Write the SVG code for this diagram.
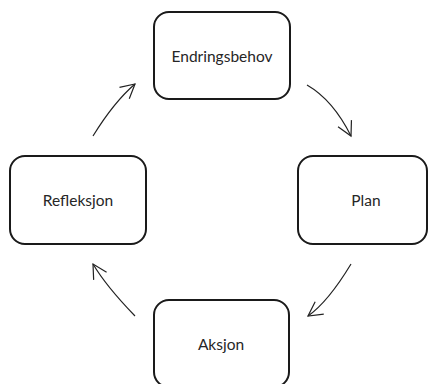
<svg xmlns="http://www.w3.org/2000/svg" width="428" height="384" viewBox="0 0 428 384">
  <style>
    .box { fill: #ffffff; stroke: #1a1a1a; stroke-width: 2; }
    .label { font-family: Lato, "Open Sans", "Liberation Sans", sans-serif; font-size: 15.5px; fill: #262626; text-anchor: middle; }
    .arc { fill: none; stroke: #222222; stroke-width: 1.2; marker-end: url(#head); }
  </style>
  <defs>
    <marker id="head" markerUnits="userSpaceOnUse" markerWidth="20" markerHeight="20" refX="0" refY="0" viewBox="-16 -10 20 20" orient="auto">
      <path d="M-14,-7.5 L0,0 L-14,7.5" fill="none" stroke="#222222" stroke-width="1.2"/>
    </marker>
  </defs>
  <rect width="428" height="384" fill="#ffffff"/>

  <g id="endringsbehov">
    <rect class="box" x="154" y="12" width="136" height="87" rx="15"/>
    <text class="label" x="222" y="62">Endringsbehov</text>
  </g>
  <g id="plan">
    <rect class="box" x="298" y="156" width="129" height="88" rx="15"/>
    <text class="label" x="366" y="206">Plan</text>
  </g>
  <g id="aksjon">
    <rect class="box" x="154" y="300" width="135" height="87" rx="15"/>
    <text class="label" x="221" y="350">Aksjon</text>
  </g>
  <g id="refleksjon">
    <rect class="box" x="10" y="156" width="136" height="88" rx="15"/>
    <text class="label" x="78" y="206">Refleksjon</text>
  </g>

  <g id="connectors">
    <path class="arc" d="M307,85 Q333,100 351,136"/>
    <path class="arc" d="M351,264 Q328,302 308,316"/>
    <path class="arc" d="M135,316 Q106,286 93,264"/>
    <path class="arc" d="M93,136 Q114,102 135,84"/>
  </g>
</svg>
